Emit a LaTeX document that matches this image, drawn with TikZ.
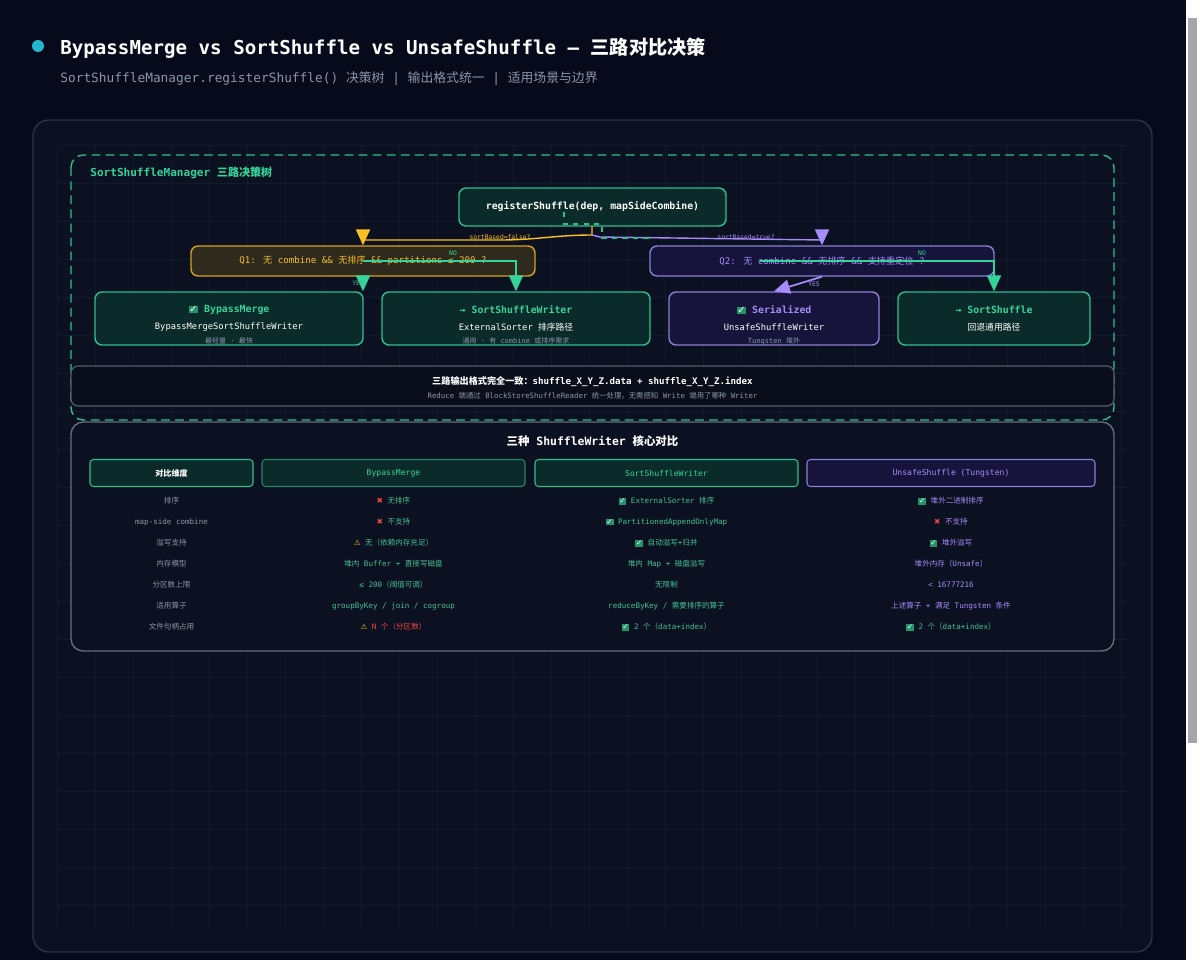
\documentclass[tikz,border=0pt]{standalone}
\usepackage{fontspec}
\usetikzlibrary{arrows.meta}
\setmainfont{DejaVu Sans Mono}
\newfontfamily\mono{DejaVu Sans Mono}
\newfontfamily\cjk{Noto Sans CJK SC}
\newfontfamily\symf{DejaVu Sans}
\XeTeXinterchartokenstate=1
\newXeTeXintercharclass\CJKcls
\count255="4E00 \loop \XeTeXcharclass\count255=\CJKcls \advance\count255 1 \ifnum\count255<"A000 \repeat
\count255="3000 \loop \XeTeXcharclass\count255=\CJKcls \advance\count255 1 \ifnum\count255<"3040 \repeat
\count255="FF00 \loop \XeTeXcharclass\count255=\CJKcls \advance\count255 1 \ifnum\count255<"FFF0 \repeat
\XeTeXinterchartoks 0 \CJKcls={\cjk}
\XeTeXinterchartoks 4095 \CJKcls={\cjk}
\XeTeXinterchartoks \CJKcls 0={\mono}
\XeTeXinterchartoks \CJKcls 4095={\mono}
\definecolor{bg}{HTML}{060A1A}
\definecolor{panel}{HTML}{0B1120}
\definecolor{pborder}{HTML}{2A3344}
\definecolor{gridc}{HTML}{121B2B}
\definecolor{grn}{HTML}{34D399}
\definecolor{grnb}{HTML}{2FBF8F}
\definecolor{grnf}{HTML}{0B2A2A}
\definecolor{pur}{HTML}{A78BFA}
\definecolor{purb}{HTML}{8B7FD6}
\definecolor{purf}{HTML}{16143A}
\definecolor{amb}{HTML}{FBBF24}
\definecolor{ambf}{HTML}{2E2A1E}
\definecolor{redc}{HTML}{EF4444}
\definecolor{gtx}{HTML}{8B95A7}
\definecolor{cyan1}{HTML}{22B8CF}
\newdimen\px \px=0.02cm
\newcommand{\okk}{{\fboxsep=0.4pt\colorbox{grn!70!black}{\symf\textcolor{white}{✓}}}}
\newcommand{\nok}{{\symf\textcolor{redc}{✖}}}
\newcommand{\wrn}{{\symf\textcolor{amb}{⚠}}}
\begin{document}
\begin{tikzpicture}[x=0.02cm,y=-0.02cm,
 fs/.style={font=\fontsize{#1}{#1}\selectfont},
 fsb/.style={font=\bfseries\fontsize{#1}{#1}\selectfont},
 box/.style={draw,rounded corners=4pt,line width=0.8pt,inner sep=0},
 gbox/.style={box,draw=grnb,fill=grnf},
 pbox/.style={box,draw=purb,fill=purf},
 tip/.style={-{Triangle[width=8pt,length=9pt]}},
 lab/.style={fs=3.6,inner sep=0.5pt},
 cell/.style={fs=4.3,inner sep=0},
 hd/.style={box,rounded corners=2pt,line width=0.6pt,fs=4.6}]
\fill[bg] (0,0) rectangle (1200,960);
\useasboundingbox (0,0) rectangle (1200,960);
% scrollbar
\fill[white] (1186,0) rectangle (1200,960);
\fill[gray!70] (1188,18) rectangle (1197,743);
% header
\fill[cyan1] (38,46) circle (6);
\node[anchor=west,inner sep=0,text=white,fsb=10.9] (title) at (60,48) {BypassMerge vs SortShuffle vs UnsafeShuffle — 三路对比决策};
\node[anchor=west,inner sep=0,text=gtx,fs=7.3] (sub) at (60,79) {SortShuffleManager.registerShuffle() 决策树 | 输出格式统一 | 适用场景与边界};
% panel
\filldraw[fill=panel,draw=pborder,line width=0.8pt,rounded corners=9pt] (33,120) rectangle (1152,952);
\foreach \x in {57,95,...,1128} \draw[gridc,line width=0.4pt] (\x,145) -- (\x,928);
\foreach \y in {145,183,...,928} \draw[gridc,line width=0.4pt] (57,\y) -- (1128,\y);
% decision group
\draw[grnb,dashed,dash pattern=on 5pt off 3pt,line width=0.8pt,rounded corners=7pt] (71,155) rectangle (1114,420);
\node[anchor=west,inner sep=0,text=grn,fsb=6.3] (gt) at (90,173) {SortShuffleManager 三路决策树};
\node[gbox,minimum width=267\px,minimum height=38\px,text=white,fsb=5.6] (root) at (592.5,207) {registerShuffle(dep, mapSideCombine)};
\node[box,draw=amb!85!black,fill=ambf,minimum width=344\px,minimum height=30\px,text=amb,fs=5.2] (q1) at (363,261) {Q1: 无 combine \&\& 无排序 \&\& partitions ≤ 200 ?};
\node[box,draw=purb,fill=purf,minimum width=344\px,minimum height=30\px,text=pur,fs=5.2] (q2) at (822,261) {Q2: 无 combine \&\& 无排序 \&\& 支持重定位 ?};
\node[gbox,minimum width=268\px,minimum height=53\px] (b1) at (229,318.5) {};
\node[gbox,minimum width=268\px,minimum height=53\px] (b2) at (516,318.5) {};
\node[pbox,minimum width=210\px,minimum height=53\px] (b3) at (774,318.5) {};
\node[gbox,minimum width=192\px,minimum height=53\px] (b4) at (994,318.5) {};
\node[text=grn,fsb=5.6] (b1t) at (229,310) {\okk\ BypassMerge};
\node[text=white,fs=5] (b1s) at (229,327) {BypassMergeSortShuffleWriter};
\node[text=gtx,fs=4] (b1n) at (229,341) {最轻量 · 最快};
\node[text=grn,fsb=5.6] (b2t) at (516,310) {→ SortShuffleWriter};
\node[text=white,fs=5] (b2s) at (516,327) {ExternalSorter 排序路径};
\node[text=gtx,fs=4] (b2n) at (516,341) {通用 · 有 combine 或排序需求};
\node[text=pur,fsb=5.6] (b3t) at (774,310) {\okk\ Serialized};
\node[text=white,fs=5] (b3s) at (774,327) {UnsafeShuffleWriter};
\node[text=gtx,fs=4] (b3n) at (774,341) {Tungsten 堆外};
\node[text=grn,fsb=5.6] (b4t) at (994,310) {→ SortShuffle};
\node[text=white,fs=5] (b4s) at (994,327) {回退通用路径};
% connectors
\coordinate (fork) at (592,235);
\draw[amb,line width=0.8pt] (root.south-|fork) -- (fork) to[out=180,in=0] (500,240) -- (363,240);
\draw[amb,tip,line width=0.8pt] (363,236) -- (q1.north);
\node[lab,text=amb] (l1) at (500,237) {sortBased=false?};
\draw[pur,line width=0.8pt] (fork) -- (600,237) -- (822,240);
\draw[pur,tip,line width=0.8pt] (822,236) -- (q2.north);
\node[lab,text=pur] (l2) at (746,237) {sortBased=true?};
\draw[grnb,dashed,line width=0.7pt] (564,212) -- (564,224) -- (602,224) -- (602,238) -- (650,238);
\draw[grn,tip,line width=0.8pt] (q1.south) -- (q1.south |- b1.north);
\node[lab,text=grn!70!gray] (y1) at (358,283) {YES};
\draw[grn,tip,line width=0.8pt] (q1.center) -- (516,261) -- (b2.north);
\node[lab,text=grn] (n1) at (453,253) {NO};
\draw[pur,tip,line width=1pt] (q2.south) -- (b3.north);
\node[lab,text=pur] (y2) at (814,284) {YES};
\draw[grn,tip,line width=0.8pt] (760,261) -- (994,261) -- (b4.north);
\node[lab,text=grn] (n2) at (922,253) {NO};
% output bar
\node[box,rounded corners=4pt,draw=pborder!80!white,fill=black!20!panel,line width=0.7pt,minimum width=1043\px,minimum height=40\px] (out) at (592.5,386) {};
\node[text=white,fsb=5.2] (o1) at (592.5,382) {三路输出格式完全一致：shuffle\_X\_Y\_Z.data + shuffle\_X\_Y\_Z.index};
\node[text=gtx,fs=4.2] (o2) at (592.5,396) {Reduce 端通过 BlockStoreShuffleReader 统一处理，无需感知 Write 端用了哪种 Writer};
% table
\draw[gtx!70!panel,line width=0.8pt,rounded corners=7pt,fill=panel] (71,422) rectangle (1114,651);
\node[text=white,fsb=6.5] (tt) at (592.5,441) {三种 ShuffleWriter 核心对比};
\node[hd,draw=grnb,fill=grnf,text=white,minimum width=163\px,minimum height=27\px] (h0) at (171.5,473) {\bfseries 对比维度};
\node[hd,draw=grnb!70!black,fill=grnf,text=grn,minimum width=263\px,minimum height=27\px] (h1) at (393.5,473) {BypassMerge};
\node[hd,draw=grnb,fill=grnf,text=grn,minimum width=263\px,minimum height=27\px] (h2) at (666.5,473) {SortShuffleWriter};
\node[hd,draw=purb,fill=purf,text=pur,minimum width=288\px,minimum height=27\px] (h3) at (951,473) {UnsafeShuffle (Tungsten)};
\foreach \y/\a/\b/\c/\d [count=\i] in {
 501/排序/{\nok\ 无排序}/{\okk\ ExternalSorter 排序}/{\okk\ 堆外二进制排序},
 522/map-side combine/{\nok\ 不支持}/{\okk\ PartitionedAppendOnlyMap}/{\nok\ \textcolor{pur}{不支持}},
 543/溢写支持/{\wrn\ 无（依赖内存充足）}/{\okk\ 自动溢写+归并}/{\okk\ 堆外溢写},
 564/内存模型/{堆内 Buffer + 直接写磁盘}/{堆内 Map + 磁盘溢写}/{堆外内存（Unsafe）},
 585/分区数上限/{≤ 200（阈值可调）}/{无限制}/{< 16777216},
 606/适用算子/{groupByKey / join / cogroup}/{reduceByKey / 需要排序的算子}/{上述算子 + 满足 Tungsten 条件}}
{
 \node[cell,text=gtx] (c0r\i) at (171.5,\y) {\a};
 \node[cell,text=grn!75!gray] (c1r\i) at (393.5,\y) {\b};
 \node[cell,text=grn!80!gray] (c2r\i) at (666.5,\y) {\c};
 \node[cell,text=pur] (c3r\i) at (951,\y) {\d};
}
\node[cell,text=gtx] (c0r7) at (171.5,627) {文件句柄占用};
\node[cell,text=redc] (c1r7) at (393.5,627) {\wrn\ N 个（分区数）};
\node[cell,text=grn!80!gray] (c2r7) at (666.5,627) {\okk\ 2 个（data+index）};
\node[cell,text=grn!80!gray] (c3r7) at (951,627) {\okk\ 2 个（data+index）};
\end{tikzpicture}
\end{document}
